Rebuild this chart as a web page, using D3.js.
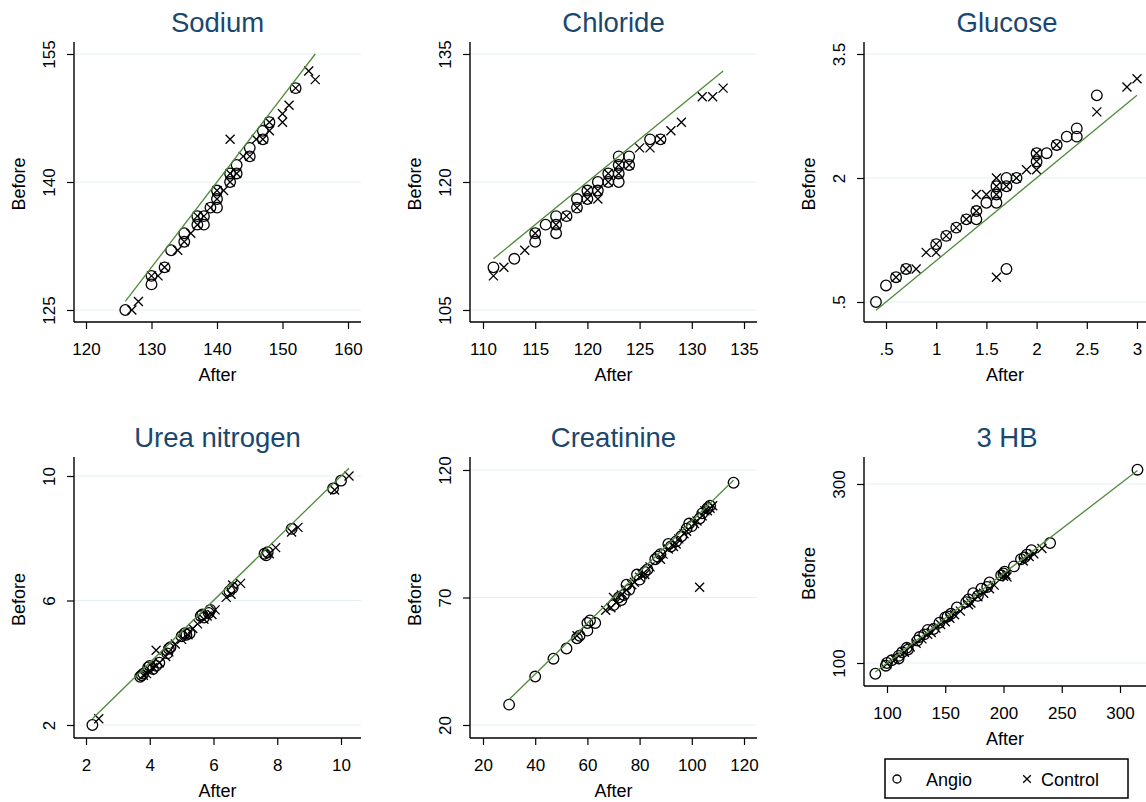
<!DOCTYPE html>
<html>
<head>
<meta charset="utf-8">
<script src="https://cdn.jsdelivr.net/npm/d3@7"></script>
<style>
  body { margin: 0; background: #fff; }
  svg { font-family: "Liberation Sans", Arial, sans-serif; }
</style>
</head>
<body>
<div id="chart"></div>
<script>
// values: [after, before]
var sodiumAngio = [[126,125],[130,128],[130,129],[132,130],[133,132],[135,133],[135,134],[137,135],[137,136],[138,135],[138,136],[139,137],[140,137],[140,138],[140,139],[142,140],[142,141],[143,141],[143,142],[145,143],[145,144],[147,145],[147,146],[148,147],[152,151]];
var sodiumControl = [[127,125],[128,126],[130,129],[131,129],[132,130],[134,132],[135,133],[136,134],[137,135],[137,136],[138,136],[139,137],[140,138],[140,139],[141,139],[142,140],[142,141],[142,145],[143,141],[144,143],[145,143],[146,145],[147,145],[148,146],[148,147],[150,147],[150,148],[151,149],[152,151],[154,153],[155,152]];

var chlorideAngio = [[111,110],[113,111],[115,113],[115,114],[116,115],[117,114],[117,115],[117,116],[118,116],[119,117],[119,118],[120,118],[120,119],[121,119],[121,120],[122,120],[122,121],[123,120],[123,121],[123,122],[123,123],[124,122],[124,123],[126,125],[127,125]];
var chlorideControl = [[111,109],[112,110],[114,112],[115,114],[117,115],[118,116],[119,117],[120,118],[120,119],[121,118],[121,119],[122,120],[122,121],[123,121],[123,122],[124,122],[125,124],[126,124],[127,125],[128,126],[129,127],[131,130],[132,130],[133,131]];

var glucoseAngio = [[0.4,0.5],[0.5,0.7],[0.6,0.8],[0.7,0.9],[1.0,1.2],[1.1,1.3],[1.2,1.4],[1.3,1.5],[1.4,1.5],[1.4,1.6],[1.5,1.7],[1.6,1.7],[1.6,1.8],[1.6,1.9],[1.7,0.9],[1.7,1.9],[1.7,2.0],[1.8,2.0],[2.0,2.2],[2.0,2.3],[2.1,2.3],[2.2,2.4],[2.3,2.5],[2.4,2.5],[2.4,2.6],[2.6,3.0]];
var glucoseControl = [[0.6,0.8],[0.7,0.9],[0.8,0.9],[0.9,1.1],[1.0,1.1],[1.0,1.2],[1.1,1.3],[1.2,1.4],[1.3,1.5],[1.4,1.6],[1.4,1.8],[1.5,1.8],[1.6,0.8],[1.6,1.8],[1.6,1.9],[1.6,2.0],[1.7,1.9],[1.8,2.0],[1.9,2.1],[2.0,2.1],[2.0,2.2],[2.0,2.3],[2.2,2.4],[2.6,2.8],[2.9,3.1],[3.0,3.2]];

var ureaAngio = [[2.2,2.0],[3.7,3.55],[3.75,3.6],[3.8,3.65],[3.95,3.85],[4.0,3.9],[4.1,3.8],[4.2,3.9],[4.3,4.0],[4.55,4.3],[4.6,4.45],[4.65,4.5],[5.0,4.85],[5.1,4.95],[5.15,4.9],[5.25,4.95],[5.6,5.5],[5.65,5.55],[5.7,5.45],[5.85,5.6],[5.9,5.7],[6.5,6.3],[6.6,6.4],[7.6,7.5],[7.65,7.45],[7.7,7.55],[8.45,8.3],[9.75,9.6],[10.0,9.85]];
var ureaControl = [[2.4,2.2],[3.8,3.6],[3.9,3.65],[4.0,3.75],[4.1,3.85],[4.2,4.4],[4.3,4.0],[4.5,4.2],[4.6,4.35],[4.8,4.6],[5.0,4.75],[5.2,4.9],[5.35,5.1],[5.5,5.25],[5.7,5.4],[5.8,5.5],[5.95,5.55],[6.05,5.7],[6.4,6.1],[6.55,6.2],[6.6,6.5],[6.85,6.55],[7.75,7.5],[7.95,7.7],[8.45,8.2],[8.65,8.35],[9.8,9.55],[10.25,10.0]];

var creatAngio = [[30,28],[40,39],[47,46],[52,50],[56,54],[57,55],[60,57],[60,60],[61,61],[63,60],[70,67],[72,70],[73,69],[74,71],[75,75],[76,73],[79,79],[80,77],[82,80],[83,81],[86,85],[87,86],[88,87],[91,91],[92,90],[94,92],[96,94],[98,97],[99,99],[100,98],[103,101],[104,103],[106,105],[107,106],[116,115]];
var creatControl = [[56,55],[67,65],[69,66],[70,70],[71,68],[73,71],[75,73],[77,75],[78,76],[80,78],[81,79],[82,79],[84,82],[88,85],[89,87],[91,89],[93,90],[94,91],[95,93],[97,95],[98,96],[101,99],[102,100],[103,74],[104,102],[105,104],[106,104],[107,105],[108,106]];

var hbAngio = [[90,88],[99,97],[100,100],[104,103],[110,105],[110,108],[113,112],[117,117],[118,115],[126,125],[128,129],[132,132],[135,137],[140,138],[145,145],[150,151],[152,152],[155,155],[160,162],[168,168],[170,171],[174,178],[178,175],[181,183],[186,185],[188,190],[198,198],[200,200],[201,202],[209,208],[215,216],[218,218],[220,221],[224,226],[240,234],[315,316]];
var hbControl = [[100,99],[107,104],[115,112],[120,118],[125,122],[130,127],[135,132],[138,134],[142,139],[146,143],[150,146],[154,150],[158,154],[163,158],[170,165],[172,167],[178,174],[183,178],[188,183],[192,187],[200,197],[202,199],[203,196],[217,214],[222,219],[226,222],[233,228]];

var sodiumXTicks = [120,130,140,150,160], sodiumYTicks = [125,140,155];
var chlorideXTicks = [110,115,120,125,130,135], chlorideYTicks = [105,120,135];
var glucoseXTicks = [0.5,1,1.5,2,2.5,3], glucoseYTicks = [0.5,2,3.5];
var ureaXTicks = [2,4,6,8,10], ureaYTicks = [2,6,10];
var creatXTicks = [20,40,60,80,100,120], creatYTicks = [20,70,120];
var hbXTicks = [100,150,200,250,300], hbYTicks = [100,300];

var groupNames = ["Angio", "Control"];

var width = 1146, height = 802;
var titleColor = "#1a476f", lineColor = "#4f8a3b", gridColor = "#e6eff1";

// layout of each panel (plot box + pixel range of the tick span)
var panels = [
  {title:"Sodium", angio:sodiumAngio, control:sodiumControl, xt:sodiumXTicks, yt:sodiumYTicks,
   l:74, r:361, t:42, b:322, xr:[86,348], yr:[310,54], ty:32},
  {title:"Chloride", angio:chlorideAngio, control:chlorideControl, xt:chlorideXTicks, yt:chlorideYTicks,
   l:470, r:757, t:42, b:322, xr:[483,744], yr:[310,54], ty:32},
  {title:"Glucose", angio:glucoseAngio, control:glucoseControl, xt:glucoseXTicks, yt:glucoseYTicks,
   l:864, r:1150, t:42, b:322, xr:[886,1137], yr:[302,54], ty:32},
  {title:"Urea nitrogen", angio:ureaAngio, control:ureaControl, xt:ureaXTicks, yt:ureaYTicks,
   l:74, r:361, t:457, b:738, xr:[86,341], yr:[725,476], ty:447},
  {title:"Creatinine", angio:creatAngio, control:creatControl, xt:creatXTicks, yt:creatYTicks,
   l:470, r:757, t:457, b:738, xr:[483,744], yr:[725,470], ty:447},
  {title:"3 HB", angio:hbAngio, control:hbControl, xt:hbXTicks, yt:hbYTicks,
   l:864, r:1150, t:457, b:686, xr:[887,1120], yr:[663,484], ty:447}
];

var fmt = function(v) { return String(v).replace(/^0\./, "."); };
var xMark = "M-4.5,-4.5L4.5,4.5M-4.5,4.5L4.5,-4.5";

var svg = d3.select("#chart").append("svg")
  .attr("width", width).attr("height", height);
svg.append("rect").attr("width", width).attr("height", height).attr("fill", "#fff");

panels.forEach(function(p) {
  var x = d3.scaleLinear().domain([p.xt[0], p.xt[p.xt.length-1]]).range(p.xr);
  var y = d3.scaleLinear().domain([p.yt[0], p.yt[p.yt.length-1]]).range(p.yr);
  var g = svg.append("g");
  var cx = (p.l + Math.min(p.r, 1146)) / 2;

  // grid
  g.selectAll(".grid").data(p.yt).enter().append("line")
    .attr("x1", p.l).attr("x2", p.r)
    .attr("y1", function(d){ return y(d); }).attr("y2", function(d){ return y(d); })
    .attr("stroke", gridColor).attr("stroke-width", 1.2);

  // axes
  var xAxis = d3.axisBottom(x).tickValues(p.xt).tickFormat(fmt).tickSize(7).tickSizeOuter(0);
  var xa = g.append("g").attr("transform", "translate(0," + p.b + ")").call(xAxis);
  xa.select(".domain").remove();
  xa.append("line").attr("x1", p.l).attr("x2", p.r).attr("stroke", "#000").attr("stroke-width", 1.4);
  xa.selectAll(".tick line").attr("stroke", "#000").attr("stroke-width", 1.2);
  xa.selectAll(".tick text").attr("y", 33).attr("dy", 0)
    .attr("font-size", 17).attr("fill", "#000").attr("font-family", "Liberation Sans, Arial, sans-serif");

  var yAxis = d3.axisLeft(y).tickValues(p.yt).tickFormat(fmt).tickSize(7).tickSizeOuter(0);
  var ya = g.append("g").attr("transform", "translate(" + p.l + ",0)").call(yAxis);
  ya.select(".domain").remove();
  ya.append("line").attr("y1", p.t).attr("y2", p.b).attr("stroke", "#000").attr("stroke-width", 1.4);
  ya.selectAll(".tick line").attr("stroke", "#000").attr("stroke-width", 1.2);
  ya.selectAll(".tick text")
    .attr("x", null).attr("dy", 0)
    .attr("transform", "translate(-19,0) rotate(-90)")
    .attr("text-anchor", "middle")
    .attr("font-size", 17).attr("fill", "#000").attr("font-family", "Liberation Sans, Arial, sans-serif");

  // markers
  g.selectAll(".ang").data(p.angio).enter().append("circle")
    .attr("cx", function(d){ return x(d[0]); })
    .attr("cy", function(d){ return y(d[1]); })
    .attr("r", 5.3).attr("fill", "none").attr("stroke", "#000").attr("stroke-width", 1.3);
  g.selectAll(".ctl").data(p.control).enter().append("path")
    .attr("d", xMark)
    .attr("transform", function(d){ return "translate(" + x(d[0]) + "," + y(d[1]) + ")"; })
    .attr("fill", "none").attr("stroke", "#000").attr("stroke-width", 1.3);

  // line of equality over the range of "after"
  var all = p.angio.concat(p.control);
  var ext = d3.extent(all, function(d){ return d[0]; });
  g.append("path")
    .datum(ext)
    .attr("d", d3.line().x(function(d){ return x(d); }).y(function(d){ return y(d); }))
    .attr("stroke", lineColor).attr("stroke-width", 1.3).attr("fill", "none");

  // titles
  g.append("text").attr("x", cx + (p.r > 1146 ? 2 : 0)).attr("y", p.ty)
    .attr("text-anchor", "middle").attr("font-size", 27.5).attr("fill", titleColor)
    .text(p.title);
  g.append("text").attr("x", cx).attr("y", p.b + 59)
    .attr("text-anchor", "middle").attr("font-size", 18).attr("fill", "#000")
    .text("After");
  g.append("text")
    .attr("transform", "translate(" + (p.l - 49) + "," + ((p.t + p.b) / 2 + 2) + ") rotate(-90)")
    .attr("text-anchor", "middle").attr("font-size", 18).attr("fill", "#000")
    .text("Before");
});

// legend
var leg = svg.append("g");
leg.append("rect").attr("x", 885).attr("y", 759).attr("width", 243).attr("height", 39)
  .attr("fill", "#fff").attr("stroke", "#000").attr("stroke-width", 1.5);
leg.append("circle").attr("cx", 897).attr("cy", 779).attr("r", 4)
  .attr("fill", "none").attr("stroke", "#000").attr("stroke-width", 1.3);
leg.append("path").attr("d", "M-3.8,-3.8L3.8,3.8M-3.8,3.8L3.8,-3.8")
  .attr("transform", "translate(1027,779)").attr("fill", "none").attr("stroke", "#000").attr("stroke-width", 1.3);
leg.selectAll(".lt").data(groupNames).enter().append("text")
  .attr("x", function(d, i){ return i === 0 ? 926 : 1041; })
  .attr("y", 786).attr("font-size", 18).attr("fill", "#000")
  .text(function(d){ return d; });
</script>
</body>
</html>
